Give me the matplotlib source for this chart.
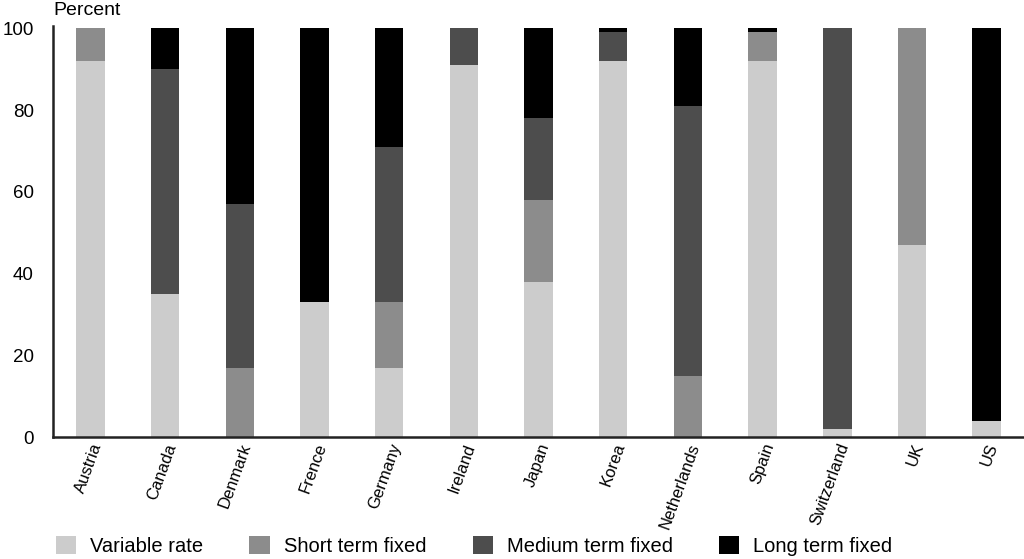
import numpy as np
import matplotlib
matplotlib.use("Agg")
import matplotlib.pyplot as plt

plt.rcParams['font.family'] = ['Liberation Sans', 'DejaVu Sans']

countries = ['Austria', 'Canada', 'Denmark', 'Frence', 'Germany', 'Ireland', 'Japan',
             'Korea', 'Netherlands', 'Spain', 'Switzerland', 'UK', 'US']
variable_rate = [92, 35, 0, 33, 17, 91, 38, 92, 0, 92, 2, 47, 4]
short_fixed = [8, 0, 17, 0, 16, 0, 20, 0, 15, 7, 0, 53, 0]
medium_fixed = [0, 55, 40, 0, 38, 9, 20, 7, 66, 0, 98, 0, 0]
long_fixed = [0, 10, 43, 67, 29, 0, 22, 1, 19, 1, 0, 0, 96]

series = [
    ('Variable rate', variable_rate, '#cccccc'),
    ('Short term fixed', short_fixed, '#8c8c8c'),
    ('Medium term fixed', medium_fixed, '#4d4d4d'),
    ('Long term fixed', long_fixed, '#000000'),
]

fig = plt.figure(figsize=(10.24, 5.59), dpi=100)
ax = fig.add_axes([0.052, 0.218, 0.948, 0.735])

x = np.arange(len(countries))
bottom = np.zeros(len(countries))
for name, vals, col in series:
    vals = np.array(vals, dtype=float)
    ax.bar(x, vals, bottom=bottom, width=0.38, color=col, label=name)
    bottom += vals

ax.set_xlim(-0.5, len(countries) - 0.5)
ax.set_ylim(0, 100.5)
ax.set_yticks([0, 20, 40, 60, 80, 100])
ax.tick_params(axis='y', length=0, pad=14, labelsize=13.5)
ax.tick_params(axis='x', length=0, pad=3)
ax.set_xticks(x)
ax.set_xticklabels(countries, rotation=70, ha='right', va='top',
                   rotation_mode='anchor', fontsize=12)
for s in ['top', 'right']:
    ax.spines[s].set_visible(False)
for s in ['left', 'bottom']:
    ax.spines[s].set_linewidth(1.8)
    ax.spines[s].set_color('#222222')

fig.text(0.085, 0.982, 'Percent', ha='center', va='center', fontsize=14)

fig.legend(loc='center', bbox_to_anchor=(0.463, 0.023), ncol=4, frameon=False,
           fontsize=14.5, handlelength=1.0, handleheight=1.0, columnspacing=2.3,
           handletextpad=0.7)

fig.savefig('out.png', dpi=100)
